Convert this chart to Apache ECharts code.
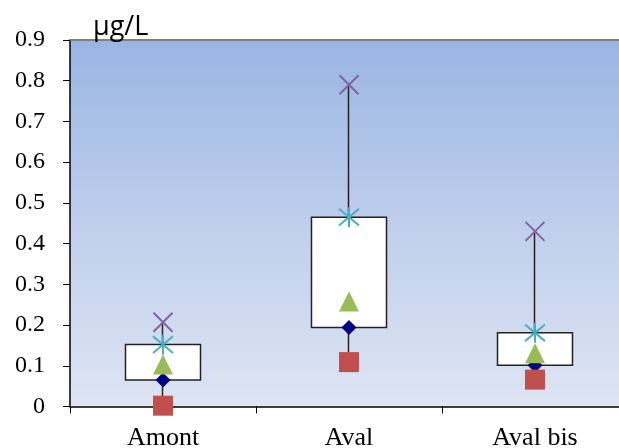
<!DOCTYPE html>
<html>
<head>
<meta charset="utf-8">
<script src="https://cdn.jsdelivr.net/npm/echarts@6/dist/echarts.min.js"></script>
<style>
  html, body { margin: 0; padding: 0; background: #fff; }
  #chart { width: 619px; height: 448px; }
</style>
</head>
<body>
<div id="chart"></div>
<script>
// Sampling sites
const categories = ['Amont', 'Aval', 'Aval bis'];
// Concentration statistics (µg/L) per site
const maxValues    = [0.207, 0.790, 0.430];
const p90Values    = [0.152, 0.465, 0.181];
const meanValues   = [0.103, 0.258, 0.131];
const medianValues = [0.065, 0.194, 0.101];
const minValues    = [0.002, 0.109, 0.066];
// Value axis ticks
const yMin = 0, yMax = 0.9, yStep = 0.1;

const serif = '"Liberation Serif", "DejaVu Serif", serif';

const chart = echarts.init(document.getElementById('chart'), null, { renderer: 'canvas' });

// Box spans median → P90, whisker spans min → max
const boxData = categories.map((c, i) => [medianValues[i], p90Values[i], minValues[i], maxValues[i]]);

const crossPath = 'path://M0,0L10,10M10,0L0,10';
const starPath = 'path://M0,0L10,10M10,0L0,10M5,-1L5,11';

chart.setOption({
  animation: false,
  grid: {
    left: 70, right: -9, top: 40, bottom: 41.5,
    containLabel: false,
    outerBoundsMode: 'none',
    show: true,
    borderWidth: 0,
    backgroundColor: {
      type: 'linear', x: 0, y: 0, x2: 0, y2: 1,
      colorStops: [
        { offset: 0, color: '#99B5E3' },
        { offset: 0.5, color: '#BFCEEC' },
        { offset: 1, color: '#DEE5F3' }
      ]
    }
  },
  xAxis: [{
    type: 'category',
    data: categories,
    boundaryGap: true,
    axisLine: { lineStyle: { color: '#000', width: 1.5 } },
    axisTick: { show: true, length: 7, lineStyle: { color: '#000' } },
    axisLabel: { color: '#000', fontFamily: serif, fontSize: 26, margin: 19 },
    splitLine: { show: false }
  }, {
    type: 'category',
    data: categories,
    position: 'top',
    axisLine: { lineStyle: { color: '#808080', width: 2 } },
    axisTick: { show: false },
    axisLabel: { show: false }
  }],
  yAxis: {
    type: 'value',
    min: yMin, max: yMax, interval: yStep,
    axisLine: { show: true, lineStyle: { color: '#000', width: 1.5 } },
    axisTick: { show: true, inside: false, length: 7, lineStyle: { color: '#000' } },
    axisLabel: {
      color: '#000', fontFamily: serif, fontSize: 24, margin: 25,
      formatter: v => String(Math.round(v * 10) / 10)
    },
    splitLine: { show: false }
  },
  graphic: [{
    type: 'text',
    x: 93, y: 27,
    style: {
      text: 'μg/L', fill: '#000', verticalAlign: 'middle',
      font: '27px "Open Sans", "Liberation Sans", sans-serif'
    },
    z: 10
  }],
  series: [
    {
      type: 'candlestick',
      data: boxData,
      barWidth: 75,
      itemStyle: {
        color: '#fff', color0: '#fff',
        borderColor: '#222', borderColor0: '#222',
        borderWidth: 1.5
      },
      z: 2
    },
    {
      type: 'scatter', data: medianValues, symbol: 'diamond', symbolSize: 15,
      itemStyle: { color: '#000080', opacity: 1 }, z: 3
    },
    {
      type: 'scatter', data: meanValues, symbol: 'triangle', symbolSize: 20,
      itemStyle: { color: '#9BBB59', opacity: 1 }, z: 4
    },
    {
      type: 'scatter', data: minValues, symbol: 'rect', symbolSize: 20,
      itemStyle: { color: '#C0504D', opacity: 1 }, z: 4
    },
    {
      type: 'scatter', data: p90Values, symbol: starPath, symbolSize: 20,
      itemStyle: { color: 'none', borderColor: '#4BACC6', borderWidth: 2, opacity: 1 }, z: 5
    },
    {
      type: 'scatter', data: maxValues, symbol: crossPath, symbolSize: 19,
      itemStyle: { color: 'none', borderColor: '#8064A2', borderWidth: 2, opacity: 1 }, z: 5
    }
  ]
});
</script>
</body>
</html>
